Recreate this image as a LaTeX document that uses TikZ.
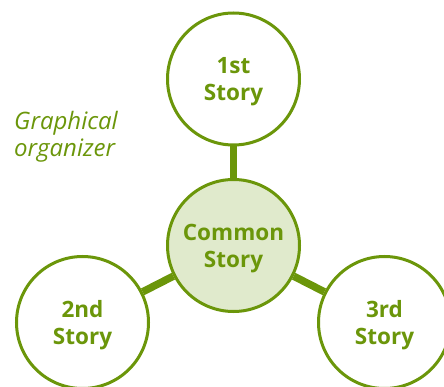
\documentclass[tikz,border=0pt]{standalone}
\usepackage{fontspec}
\setmainfont{Open Sans}
\definecolor{leaf}{RGB}{107,150,10}
\definecolor{leaflight}{RGB}{224,234,204}

\begin{document}
\begin{tikzpicture}[x=1pt, y=-1pt,
    story/.style={circle, draw=leaf, line width=3pt, minimum size=132pt, inner sep=0pt,
        align=center, text depth=0pt, text=leaf, font=\bfseries\fontsize{22.5}{27}\selectfont},
    link/.style={leaf, line width=7.5pt}]
    \useasboundingbox (0,0) rectangle (444,387);

    % Common story in the middle, the three stories round it
    \node[story, fill=leaflight] (common) at (233.5,245.5) {Common\\Story};
    \node[story, fill=white] (first) at (233.5,79) {1st\\Story};
    \node[story, fill=white] (second) at (82.5,322.5) {2nd\\Story};
    \node[story, fill=white] (third) at (384.5,322.5) {3rd\\Story};

    % Links between them
    \draw[link] (common) -- (first);
    \draw[link] (common) -- (second);
    \draw[link] (common) -- (third);

    % Caption
    \node[anchor=north west, align=left, text=leaf, inner sep=0pt,
        font=\itshape\fontsize{24}{27}\selectfont] (caption) at (14,111) {Graphical\\organizer};
\end{tikzpicture}
\end{document}
